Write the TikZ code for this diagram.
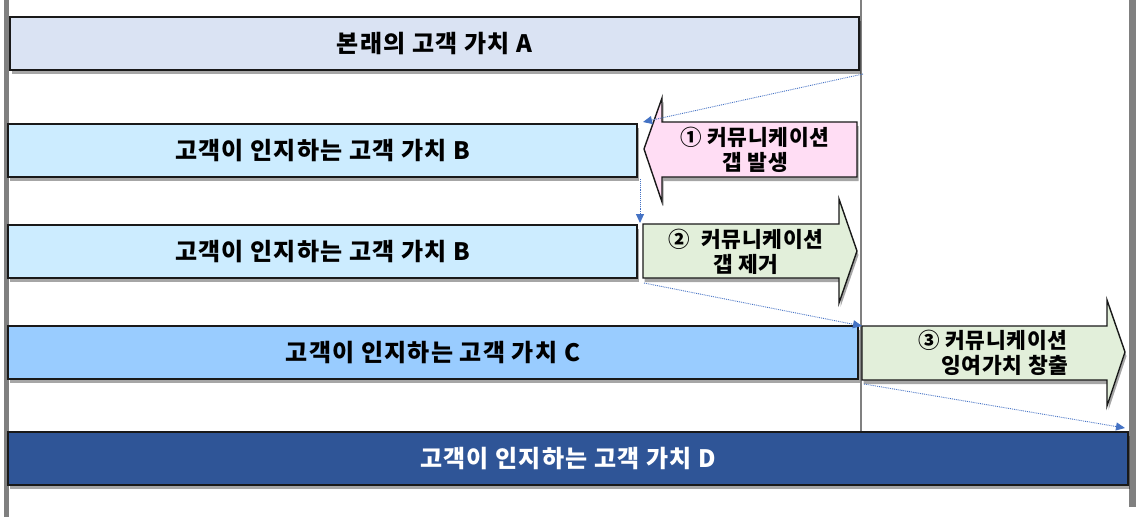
\documentclass[tikz,border=0pt]{standalone}
\usepackage{fontspec}
\setmainfont{Noto Sans CJK KR}
\usetikzlibrary{shadows,arrows.meta}
\definecolor{cA}{HTML}{DAE3F3}
\definecolor{cB}{HTML}{CCECFF}
\definecolor{cC}{HTML}{99CCFF}
\definecolor{cD}{HTML}{2F5597}
\definecolor{cPink}{HTML}{FFDDF4}
\definecolor{cGreen}{HTML}{E2EFDA}
\definecolor{cLine}{HTML}{4472C4}
\definecolor{cGray}{HTML}{808080}
\tikzset{
  bar/.style={draw=black!90, line width=1.4pt, inner sep=0pt,
    font=\bfseries\fontsize{24}{28}\selectfont\addfontfeatures{LetterSpace=5},
    drop shadow={shadow xshift=1.5pt, shadow yshift=-4pt, opacity=0.35, fill=black}},
  arr/.style={draw=black!90, line width=1.4pt, line join=miter,
    drop shadow={shadow xshift=1.5pt, shadow yshift=-4pt, opacity=0.35, fill=black}},
  lbl/.style={font=\bfseries\fontsize{21.5}{25.5}\selectfont\addfontfeatures{LetterSpace=3}, align=center, inner sep=0pt},
  link/.style={draw=cLine, line width=0.9pt, densely dotted, -{Triangle[length=9pt,width=8pt]}},
  guide/.style={draw=cGray}
}
\begin{document}
\begin{tikzpicture}[x=1pt,y=-1pt]
\useasboundingbox (0,0) rectangle (1136,522);
% guide lines
\draw[guide, line width=5pt] (6.5,0) -- (6.5,517);
\draw[guide, line width=2pt] (861,0) -- (861,432);
\draw[guide, line width=7pt] (1132.5,0) -- (1132.5,507);
% bars
\node[bar, fill=cA, minimum width=849pt, minimum height=53pt] (A) at (434.5,43.5) {본래의 고객 가치 A};
\node[bar, fill=cB, minimum width=629pt, minimum height=53pt] (B1) at (322.5,150.5) {고객이 인지하는 고객 가치 B};
\node[bar, fill=cB, minimum width=629pt, minimum height=53pt] (B2) at (322.5,251.5) {고객이 인지하는 고객 가치 B};
\node[bar, fill=cC, minimum width=850pt, minimum height=53pt] (C) at (433,352.5) {고객이 인지하는 고객 가치 C};
\node[bar, fill=cD, text=white, minimum width=1120pt, minimum height=53pt] (D) at (568,458.5) {고객이 인지하는 고객 가치 D};
% block arrows
\path[arr, fill=cPink] (644,149) -- (662,98) -- (662,122) -- (857,122) -- (857,177) -- (662,177) -- (662,202) -- cycle;
\path[arr, fill=cGreen] (643,224) -- (839,224) -- (839,199) -- (857,251) -- (839,303) -- (839,278) -- (643,278) -- cycle;
\path[arr, fill=cGreen] (862,326) -- (1107,326) -- (1107,300) -- (1125,352) -- (1107,406) -- (1107,380) -- (862,380) -- cycle;
\node[lbl] (L1) at (755,150) {① 커뮤니케이션\\갭 발생};
\node[lbl] (L2) at (746,252) {②\ \ 커뮤니케이션\\갭 제거};
\node[lbl] (L3) at (993,353) {③ 커뮤니케이션\\\hspace*{1.1em}잉여가치 창출};
% dotted links
\coordinate (s1) at (863,74);
\coordinate (e1) at (643,122);
\coordinate (s2) at (640,179);
\coordinate (e2) at (640,223);
\coordinate (s3) at (644,283);
\coordinate (e3) at (862,326);
\coordinate (s4) at (864,384);
\coordinate (e4) at (1125,428);
\draw[link] (s1) -- (e1);
\draw[link] (s2) -- (e2);
\draw[link] (s3) -- (e3);
\draw[link] (s4) -- (e4);
\end{tikzpicture}
\end{document}
